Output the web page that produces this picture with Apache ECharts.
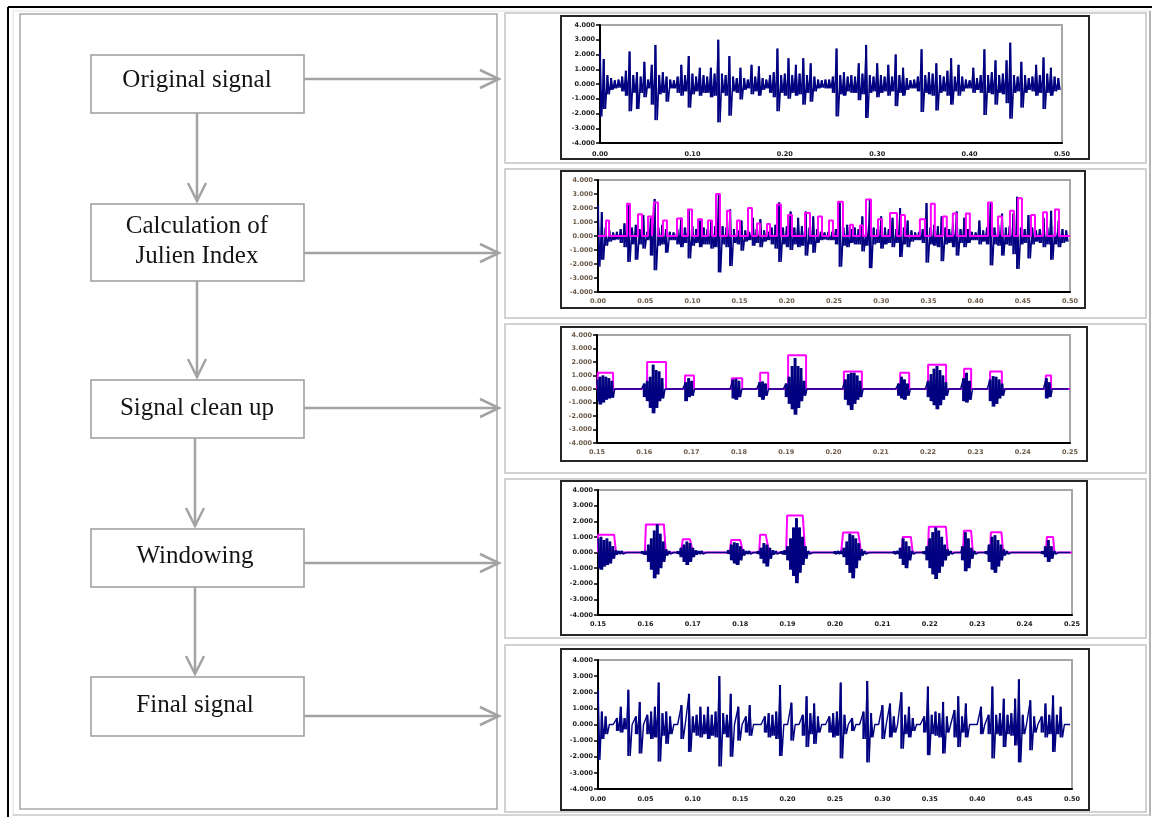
<!DOCTYPE html>
<html><head><meta charset="utf-8">
<script src="https://cdn.jsdelivr.net/npm/echarts@6/dist/echarts.min.js"></script>
<style>html,body{margin:0;padding:0;background:#fff}#c{width:1158px;height:817px}</style>
</head><body><div id="c"></div>
<script>
// ---------------- DATA ----------------
const stepLabels = ['Original signal', 'Calculation of\nJulien Index', 'Signal clean up', 'Windowing', 'Final signal'];
const yRange = [-4, 4, 1];
const xFull = [0, 0.5];
const xZoom = [0.15, 0.25];
const sampleStep = 0.004;      // original / final signal column step (s)
const zoomStep = 0.000625;     // clean-up / windowing column step (s)

// Original signal: positive and negative envelope per column
const sigUp = [2.2,1.7,0.6,0.4,0.25,0.3,0.5,0.9,2.2,0.6,
  0.8,0.5,1.5,0.3,1.3,2.65,0.6,0.8,0.5,0.3,
  0.25,0.5,1.3,0.6,1.9,0.7,0.5,1.1,0.6,0.5,
  1.1,0.7,3.0,0.7,0.6,1.9,0.5,0.4,1.1,0.4,
  0.3,1.3,0.5,1.2,0.4,0.3,0.6,0.8,2.4,0.6,
  0.7,1.75,0.6,1.3,0.7,1.75,0.6,1.4,0.5,0.3,
  0.25,0.3,0.3,0.5,2.4,0.6,0.8,0.5,0.6,0.5,
  1.4,0.7,2.65,0.6,0.5,1.4,0.6,0.5,1.3,0.5,
  2.0,0.6,1.1,0.4,0.25,0.3,0.5,2.35,0.6,0.8,
  0.7,1.4,0.6,0.5,0.9,1.75,0.5,1.3,0.5,0.3,
  0.25,1.1,0.4,0.6,2.35,0.6,0.8,1.6,0.6,0.7,
  1.6,2.8,0.6,0.5,1.5,0.6,0.4,0.5,1.3,0.6,
  1.8,0.7,1.1,0.5,0.4];
const sigDn = [2.2,1.7,0.7,0.4,0.3,0.25,0.5,0.8,1.85,0.6,
  1.7,0.6,0.9,0.3,1.4,2.45,0.7,0.6,1.2,0.3,
  0.3,0.6,0.8,0.5,1.6,0.7,0.5,0.8,0.6,0.6,
  0.9,0.8,2.6,0.6,0.8,2.15,0.5,0.6,1.05,0.4,
  0.3,0.7,0.5,0.8,0.4,0.3,0.6,0.9,1.85,0.6,
  0.8,1.0,0.6,0.8,0.7,1.4,0.6,1.2,0.5,0.3,
  0.25,0.3,0.3,0.6,2.2,0.7,0.8,0.5,0.6,0.6,
  1.1,0.7,2.3,0.6,0.5,0.9,0.6,0.5,0.8,0.5,
  1.5,0.6,0.8,0.4,0.3,0.3,0.5,1.9,0.6,0.7,
  0.8,1.8,0.6,0.5,0.8,1.4,0.5,0.8,0.5,0.3,
  0.3,0.6,0.4,0.6,2.1,0.6,0.7,1.4,0.6,0.7,
  1.3,2.35,0.6,0.5,1.6,0.6,0.4,0.5,0.8,0.6,
  1.7,0.6,0.8,0.5,0.4];

// Julien index pulses: [start s, end s, height]
const julienPulses = [
  [0.0085,0.0117,1.1],[0.0307,0.0339,2.3],[0.0424,0.0466,1.55],[0.0530,0.0572,1.4],
  [0.0593,0.0636,2.4],[0.0689,0.0731,1.1],[0.0837,0.0890,1.25],[0.0953,0.0996,1.9],
  [0.1059,0.1102,1.2],[0.1165,0.1208,1.1],[0.1250,0.1292,3.0],[0.1366,0.1398,1.8],
  [0.1472,0.1504,1.1],[0.1589,0.1631,2.0],[0.1684,0.1716,0.9],[0.1790,0.1822,0.85],
  [0.1896,0.1938,2.25],[0.2013,0.2055,1.5],[0.2193,0.2246,1.65],[0.2330,0.2373,1.4],
  [0.2447,0.2489,1.1],[0.2542,0.2595,2.45],[0.2669,0.2701,0.8],[0.2775,0.2807,0.75],
  [0.2839,0.2892,2.6],[0.2966,0.3008,1.2],[0.3093,0.3167,1.65],[0.3209,0.3252,1.5],
  [0.3410,0.3463,1.2],[0.3526,0.3568,2.3],[0.3653,0.3695,1.4],[0.3759,0.3801,1.6],
  [0.3897,0.3939,1.6],[0.4131,0.4174,2.4],[0.4237,0.4280,1.4],[0.4364,0.4406,1.8],
  [0.4449,0.4491,2.7],[0.4587,0.4629,1.5],[0.4714,0.4756,1.7],[0.4841,0.4883,1.9]];

// Signal clean up: envelope per column and kept windows [start, end, height]
const cleanUp = [0.7,0.9,1.0,0.9,0.8,0.6,0,0,0,0,
  0,0,0,0,0,0,0.4,0.6,0.9,1.8,
  1.4,1.3,0.8,0,0,0,0,0,0,0,
  0.5,0.8,0.6,0,0,0,0,0,0,0,
  0,0,0,0,0,0,0.7,0.75,0.6,0,
  0,0,0,0,0,0.5,0.55,0.4,0,0,
  0,0,0,0,0.4,0.9,1.7,2.3,1.7,1.55,
  0.6,0,0,0,0,0,0,0,0,0,
  0,0,0,0,0.7,1.1,1.2,1.2,1.0,0.6,
  0,0,0,0,0,0,0,0,0,0,
  0,0,0.4,0.9,0.7,0.4,0,0,0,0,
  0,0,0.6,1.1,1.5,1.7,1.4,1.0,0.5,0,
  0,0,0,0,0.8,1.2,0.6,0,0,0,
  0,0,0,0.7,0.95,0.9,0.7,0.4,0,0,
  0,0,0,0,0,0,0,0,0,0,
  0,0,0.8,0.5,0,0,0,0,0,0];
const cleanDn = [0.9,1.15,1.0,0.8,0.7,0.65,0,0,0,0,
  0,0,0,0,0,0,0.6,0.9,1.4,1.8,
  1.4,0.9,0.7,0,0,0,0,0,0,0,
  0.9,0.6,0.5,0,0,0,0,0,0,0,
  0,0,0,0,0,0,0.7,0.8,0.6,0,
  0,0,0,0,0,0.6,0.8,0.5,0,0,
  0,0,0,0,0.6,1.1,1.5,1.9,1.4,0.9,
  0.5,0,0,0,0,0,0,0,0,0,
  0,0,0,0,0.8,1.2,1.55,1.1,0.8,0.6,
  0,0,0,0,0,0,0,0,0,0,
  0,0,0.5,0.7,0.8,0.5,0,0,0,0,
  0,0,0.6,0.9,1.2,1.5,1.2,0.8,0.5,0,
  0,0,0,0,0.9,1.0,0.8,0,0,0,
  0,0,0,0.9,1.3,1.1,0.7,0.5,0,0,
  0,0,0,0,0,0,0,0,0,0,
  0,0,0.7,0.6,0,0,0,0,0,0];
const cleanWindows = [[0.1502,0.1534,1.2],[0.1606,0.1646,2.0],[0.1686,0.1705,1.0],[0.1785,0.1807,0.8],
  [0.1845,0.1862,1.2],[0.1904,0.1942,2.5],[0.2022,0.2060,1.3],[0.2141,0.2160,1.2],
  [0.2200,0.2238,1.8],[0.2276,0.2291,1.5],[0.2331,0.2356,1.3],[0.2449,0.2460,1.0]];

// Windowing: envelope per column and trapezoid windows [rise, top start, top end, fall, height]
const winUp = [0.9,1.0,0.8,0.9,0.7,0.4,0.15,0.1,0.1,0,
  0,0,0,0,0,0.1,0.1,0.5,0.9,1.4,
  1.8,1.2,0.7,0.2,0.1,0,0,0.1,0.3,0.5,
  0.7,0.6,0.3,0.15,0.1,0.1,0,0,0,0,
  0,0,0,0,0.15,0.5,0.65,0.6,0.4,0.2,
  0.1,0.1,0,0,0.1,0.3,0.6,0.5,0.3,0.15,
  0.1,0,0.1,0.15,0.4,0.9,1.6,2.2,1.6,1.0,
  0.4,0.1,0,0,0,0,0,0,0,0,
  0.1,0.1,0.1,0.3,0.7,1.2,1.1,0.9,0.6,0.2,
  0.1,0,0,0,0,0,0,0,0,0,
  0.1,0.1,0.3,0.9,0.7,0.4,0.1,0,0,0,
  0.1,0.4,0.9,1.3,1.6,1.4,1.0,0.5,0.2,0.1,
  0,0,0,0.4,1.3,0.9,0.3,0.1,0,0,
  0,0.1,0.5,1.0,1.1,0.8,0.5,0.2,0.1,0,
  0,0,0,0,0,0,0,0,0,0,
  0.1,0.4,0.8,0.4,0.1,0,0,0,0,0];
const winDn = [1.0,1.1,0.9,0.8,0.7,0.4,0.15,0.1,0.1,0,
  0,0,0,0,0,0.1,0.15,0.6,1.1,1.65,
  1.4,1.0,0.6,0.2,0.1,0,0,0.1,0.3,0.6,
  0.8,0.6,0.3,0.15,0.1,0.1,0,0,0,0,
  0,0,0,0,0.1,0.5,0.7,0.8,0.5,0.2,
  0.1,0.1,0,0,0.1,0.4,0.7,0.9,0.4,0.15,
  0.1,0,0.1,0.15,0.5,1.1,1.5,1.96,1.3,0.8,
  0.4,0.1,0,0,0,0,0,0,0,0,
  0.1,0.1,0.1,0.3,0.8,1.3,1.65,1.0,0.5,0.2,
  0.1,0,0,0,0,0,0,0,0,0,
  0.1,0.1,0.4,0.8,1.0,0.5,0.1,0,0,0,
  0.1,0.5,1.0,1.4,1.7,1.3,0.9,0.5,0.2,0.1,
  0,0,0,0.5,1.2,1.0,0.4,0.1,0,0,
  0,0.1,0.6,1.1,1.3,0.9,0.5,0.2,0.1,0,
  0,0,0,0,0,0,0,0,0,0,
  0.1,0.3,0.6,0.4,0.1,0,0,0,0,0];
const winWindows = [[0.1500,0.1500,0.1534,0.1538,1.13],[0.1599,0.1601,0.1639,0.1643,1.8],
  [0.1675,0.1679,0.1694,0.1700,0.85],[0.1778,0.1781,0.1800,0.1806,0.8],
  [0.1840,0.1842,0.1854,0.1861,1.13],[0.1897,0.1899,0.1932,0.1937,2.37],
  [0.2013,0.2017,0.2049,0.2055,1.28],[0.2141,0.2143,0.2160,0.2164,1.0],
  [0.2196,0.2198,0.2234,0.2238,1.65],[0.2270,0.2272,0.2287,0.2291,1.4],
  [0.2327,0.2329,0.2351,0.2355,1.3],[0.2445,0.2447,0.2460,0.2463,1.0]];

// Final signal envelope per column
const finalUp = [2.1,0.8,0.5,0,0,0.4,1.1,0.4,2.15,0,
  0.5,1.4,0,0.6,0.8,1.1,2.6,0.7,0.8,0.5,
  0,0,1.2,0,1.9,0.5,0.6,1.1,0.6,1.1,
  0.6,0.8,3.0,0.7,0.6,1.9,0,1.1,0,0.5,
  1.2,0,0,0,0.5,0.7,0.6,0.8,2.45,0,
  0,1.35,0,0,0.6,1.75,0.7,1.3,0.5,0,
  0,0.5,0.7,0.8,2.6,0.6,0,0.4,0,0,
  0.8,2.7,0.7,0,0,1.2,0,1.3,0.5,0,
  2.0,0.6,1.1,0.4,0,0,0.5,2.35,0.6,0.8,
  0.7,1.4,0.5,0,0.9,1.75,0.5,1.3,0,0,
  0,1.1,0,0.6,2.35,0.6,0.7,1.6,0.6,0.7,
  1.6,2.8,0.6,0,1.5,0.5,0,0.5,1.3,0.6,
  1.8,0.6,1.1,0,0];
const finalDn = [2.2,0.9,0.6,0,0,0.4,0.5,0.3,1.95,0,
  0.6,1.8,0,0.6,0.9,0.8,2.3,0.7,1.2,0.6,
  0,0,0.9,0,1.7,0.5,0.7,0.8,0.6,0.9,
  0.7,0.8,2.6,0.6,0.8,2.0,0,1.0,0,0.5,
  0.7,0,0,0,0.5,0.8,0.7,0.9,1.95,0,
  0,1.0,0,0,0.7,1.4,0.6,1.2,0.5,0,
  0,0.5,0.8,0.7,2.1,0.6,0,0.4,0,0,
  0.9,2.35,0.8,0,0,0.9,0,0.8,0.5,0,
  1.5,0.6,0.8,0.4,0,0,0.5,1.9,0.6,0.7,
  0.8,1.8,0.5,0,0.8,1.4,0.5,0.8,0,0,
  0,0.6,0,0.6,2.1,0.6,0.7,1.4,0.6,0.7,
  1.3,2.35,0.6,0,1.6,0.5,0,0.5,0.8,0.6,
  1.7,0.6,0.8,0,0];

// ---------------- BUILDERS ----------------
function zigzag(up, dn, t0, dt) {
  const out = [];
  for (let i = 0; i < up.length; i++) {
    out.push([t0 + i * dt, up[i]]);
    out.push([t0 + (i + 0.5) * dt, -dn[i]]);
  }
  return out;
}
function columns(up, dn, t0, dt) {
  return up.map((u, i) => [t0 + i * dt, u, dn[i]]);
}
function pulses(list, a, b) {
  const out = [[a, 0]];
  list.forEach(p => { out.push([p[0], 0], [p[0], p[2]], [p[1], p[2]], [p[1], 0]); });
  out.push([b, 0]);
  return out;
}
function trapezoids(list, a, b) {
  const out = [[a, 0]];
  list.forEach(p => { out.push([p[0], 0], [p[1], p[4]], [p[2], p[4]], [p[3], 0]); });
  out.push([b, 0]);
  return out;
}

// ---------------- LAYOUT ----------------
const plots = [
  {left: 600, top: 25, width: 462, height: 118, frame: [561, 16, 528, 143], x: xFull, xi: 0.1, lab: '#1d1d1d', ylab: '#1d1d1d', xm: 8},
  {left: 598, top: 180, width: 472, height: 112, frame: [561, 171, 524, 137], x: xFull, xi: 0.05, lab: '#6b5a4a', ylab: '#6b5a4a', xm: 6},
  {left: 597, top: 335, width: 473, height: 108, frame: [561, 327, 526, 134], x: xZoom, xi: 0.01, lab: '#6b5a4a', ylab: '#6b5a4a', xm: 6},
  {left: 598, top: 490, width: 474, height: 125, frame: [561, 481, 526, 154], x: xZoom, xi: 0.01, lab: '#1d1d1d', ylab: '#1d1d1d', xm: 6},
  {left: 598, top: 660, width: 474, height: 129, frame: [561, 649, 528, 161], x: xFull, xi: 0.05, lab: '#1d1d1d', ylab: '#1d1d1d', xm: 7}
];
const cells = [[505, 13, 641, 150], [505, 169, 641, 149], [505, 324, 641, 149], [505, 479, 641, 159], [505, 645, 641, 167]];
const boxes = [{y: 55, h: 58, arrowY: 79, cx: 197}, {y: 204, h: 77, arrowY: 253, cx: 197},
  {y: 380, h: 58, arrowY: 408, cx: 197}, {y: 529, h: 58, arrowY: 563, cx: 195}, {y: 677, h: 59, arrowY: 716, cx: 195}];
const textY = [80, 241, 408, 556, 705];

const G = [];
const GRAY = '#a3a3a3';
function L(x1, y1, x2, y2, c, w) { G.push({type: 'line', silent: true, shape: {x1, y1, x2, y2}, style: {stroke: c, lineWidth: w}}); }
function R(x, y, w, h, c, lw, f) { G.push({type: 'rect', silent: true, shape: {x, y, width: w, height: h}, style: {stroke: c, lineWidth: lw, fill: f || 'none'}}); }
function P(pts, c, w) { G.push({type: 'polyline', silent: true, shape: {points: pts}, style: {stroke: c, lineWidth: w, fill: 'none'}}); }

// outer borders
L(8, 7, 1152, 7, '#000', 2);
L(8, 7, 8, 817, '#000', 2);
L(13, 11, 1150, 11, '#e2e2e2', 1);
L(13, 11, 13, 816, '#e2e2e2', 1);
L(1150, 11, 1150, 816, '#b4b4b4', 2);
L(13, 815, 1150, 815, '#c8c8c8', 1.5);
// cells
R(20, 14, 477, 795, '#a8a8a8', 1.5);
cells.forEach(c => R(c[0], c[1], c[2], c[3], '#c4c4c4', 1.5));
// chart frames
plots.forEach(p => R(p.frame[0], p.frame[1], p.frame[2], p.frame[3], '#262626', 2));
// flow boxes, texts, arrows
boxes.forEach((b, i) => {
  R(91, b.y, 213, b.h, '#9c9c9c', 1.5, '#fff');
  G.push({type: 'text', silent: true, x: b.cx, y: textY[i], style: {text: stepLabels[i], font: '25px "Liberation Serif"', fill: '#141414', align: 'center', verticalAlign: 'middle', lineHeight: 30}});
  L(304, b.arrowY, 498, b.arrowY, GRAY, 2.5);
  P([[480, b.arrowY - 9], [499, b.arrowY], [480, b.arrowY + 9]], GRAY, 2.5);
  if (i < boxes.length - 1) {
    const nb = boxes[i + 1];
    const x = nb.cx;
    L(x, b.y + b.h, x, nb.y - 3, GRAY, 2.5);
    P([[x - 9, nb.y - 21], [x, nb.y - 3], [x + 9, nb.y - 21]], GRAY, 2.5);
  }
});

// ---------------- CHART ----------------
const grid = plots.map(p => ({left: p.left, top: p.top, width: p.width, height: p.height, show: true, borderColor: '#a6a6a6', borderWidth: 2, backgroundColor: '#fff'}));
const lblFont = {fontSize: 6.5, fontFamily: 'DejaVu Sans', fontWeight: 'bold'};
const xAxis = plots.map((p, i) => ({gridIndex: i, type: 'value', min: p.x[0], max: p.x[1], interval: p.xi,
  axisLine: {onZero: false, lineStyle: {color: '#000', width: 2}}, axisTick: {show: false}, splitLine: {show: false},
  axisLabel: Object.assign({color: p.lab, margin: p.xm, formatter: v => v.toFixed(2)}, lblFont)}));
const yAxis = plots.map((p, i) => ({gridIndex: i, type: 'value', min: yRange[0], max: yRange[1], interval: yRange[2],
  axisLine: {show: true, onZero: false, lineStyle: {color: '#000', width: 2}},
  axisTick: {show: true, length: 4, lineStyle: {color: '#000', width: 1.5}}, splitLine: {show: false},
  axisLabel: Object.assign({color: p.ylab, margin: 5, formatter: v => v.toFixed(3)}, lblFont)}));

const NAVY = '#000080', MAG = '#ff00ff';
function ser(i, data, color, w, z) {
  return {type: 'line', xAxisIndex: i, yAxisIndex: i, data, showSymbol: false, symbol: 'none', silent: true,
    animation: false, lineStyle: {color, width: w}, z, clip: true};
}
function bars(i, data, color, w, z) {
  return {type: 'custom', xAxisIndex: i, yAxisIndex: i, data, silent: true, animation: false, z, clip: true,
    encode: {x: 0, y: [1, 2]},
    renderItem: (params, api) => {
      const t = api.value(0), u = api.value(1), d = api.value(2);
      if (u === 0 && d === 0) return null;
      const a = api.coord([t, u]), b = api.coord([t, -d]);
      return {type: 'line', shape: {x1: a[0], y1: a[1], x2: b[0], y2: b[1]}, style: {stroke: color, lineWidth: w}};
    }};
}
function signal(i, up, dn, t0, dt, z, bw, lw) {
  return [ser(i, zigzag(up, dn, t0, dt), NAVY, lw, z), bars(i, columns(up, dn, t0, dt), NAVY, bw, z)];
}
const series = [].concat(
  signal(0, sigUp, sigDn, 0, sampleStep, 3, 2.2, 1.4),
  signal(1, sigUp, sigDn, 0, sampleStep, 3, 2.2, 1.4),
  [ser(1, pulses(julienPulses, xFull[0], xFull[1]), MAG, 2, 4)],
  [ser(2, pulses(cleanWindows, xZoom[0], xZoom[1]), MAG, 2, 3)],
  signal(2, cleanUp, cleanDn, xZoom[0], zoomStep, 4, 3, 1.5),
  [ser(3, trapezoids(winWindows, xZoom[0], xZoom[1]), MAG, 2, 3)],
  signal(3, winUp, winDn, xZoom[0], zoomStep, 4, 3, 1.5),
  signal(4, finalUp, finalDn, 0, sampleStep, 3, 2.2, 1.4)
);

const chart = echarts.init(document.getElementById('c'), null, {renderer: 'canvas'});
chart.setOption({animation: false, backgroundColor: '#fff', grid, xAxis, yAxis, series, graphic: G});
</script>
</body></html>
